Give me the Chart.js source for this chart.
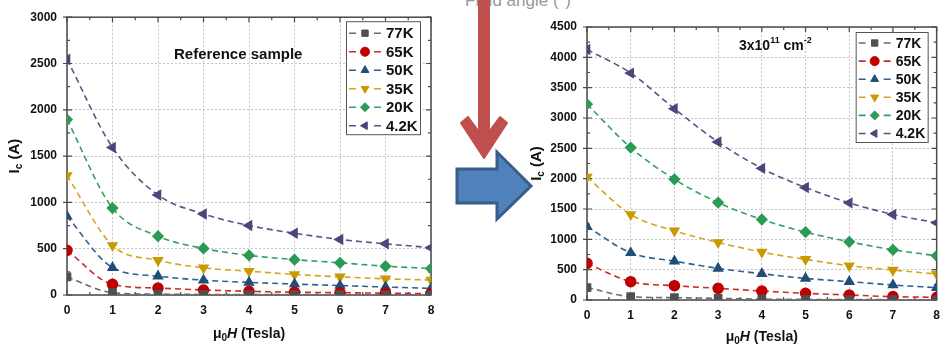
<!DOCTYPE html>
<html>
<head>
<meta charset="utf-8">
<script src="https://cdn.jsdelivr.net/npm/chart.js@4/dist/chart.umd.min.js"></script>
<style>
body { margin: 0; background: #fff; }
#wrap { position: relative; width: 948px; height: 346px; overflow: hidden; }
canvas { position: absolute; top: 0; }
svg { position: absolute; left: 0; top: 0; }
</style>
</head>
<body>
<div id="wrap">
  <svg width="948" height="346">
    <text x="465" y="6" font-family="Liberation Sans, Arial, sans-serif" font-size="17" fill="#999">Field angle (°)</text>
    <polygon fill="#c0504d" stroke="#c0504d" stroke-width="2" stroke-linejoin="round"
      points="479,-4 489,-4 489,132 500,117 507,123 484,158 461,123 468,117 479,132"/>
    <polygon fill="#4f81bd" stroke="#385d8a" stroke-width="3"
      points="457,169 497,169 497,152 531,186 497,219 497,203 457,203"/>
  </svg>
  <canvas id="left" width="445" height="346" style="left:0"></canvas>
  <canvas id="right" width="428" height="346" style="left:520px"></canvas>
</div>
<script>
// field values (Tesla)
const fields = [0, 1, 2, 3, 4, 5, 6, 7, 8];
const temps = ['77K', '65K', '50K', '35K', '20K', '4.2K'];

// reference sample, Ic (A)
const ref77 = [195, 25, 10, 6, 5, 4, 3, 3, 2];
const ref65 = [482, 115, 75, 54, 40, 30, 25, 20, 15];
const ref50 = [850, 296, 203, 160, 136, 118, 102, 86, 72];
const ref35 = [1290, 535, 375, 293, 257, 222, 196, 175, 161];
const ref20 = [1895, 939, 635, 503, 428, 382, 348, 311, 286];
const ref42 = [2545, 1593, 1080, 875, 750, 667, 600, 553, 511];

// 3x10^11 cm^-2 sample, Ic (A)
const irr77 = [205, 55, 38, 27, 15, 10, 8, 5, 3];
const irr65 = [605, 302, 236, 192, 148, 110, 82, 55, 44];
const irr50 = [1210, 778, 641, 521, 433, 356, 302, 247, 203];
const irr35 = [2025, 1410, 1140, 949, 790, 669, 565, 494, 428];
const irr20 = [3228, 2512, 1990, 1607, 1327, 1119, 960, 828, 729];
const irr42 = [4128, 3740, 3153, 2604, 2170, 1854, 1601, 1410, 1272];

const leftTicks = [0, 500, 1000, 1500, 2000, 2500, 3000];
const rightTicks = [0, 500, 1000, 1500, 2000, 2500, 3000, 3500, 4000, 4500];

const FF = "'Liberation Sans', Arial, sans-serif";
Chart.defaults.font.family = FF;

const styles = [
  { line: '#6b6b6b', mark: '#505050', point: 'rect', rot: 0 },
  { line: '#cc2b2b', mark: '#c00000', point: 'circle', rot: 0 },
  { line: '#2f5f8f', mark: '#1f4e79', point: 'triangle', rot: 0 },
  { line: '#d4a520', mark: '#c89a00', point: 'triangle', rot: 180 },
  { line: '#35a062', mark: '#2a9a55', point: 'rectRot', rot: 0 },
  { line: '#55558a', mark: '#48487a', point: 'triangle', rot: 270 }
];

function makeSets(list) {
  return list.map((vals, i) => ({
    label: temps[i],
    data: fields.map((f, j) => ({ x: f, y: vals[j] })),
    borderColor: styles[i].line,
    backgroundColor: styles[i].mark,
    pointBorderColor: styles[i].mark,
    pointBackgroundColor: styles[i].mark,
    pointStyle: styles[i].point,
    rotation: styles[i].rot,
    pointRadius: 5,
    borderWidth: 1.6,
    borderDash: [6, 4],
    cubicInterpolationMode: 'monotone',
    clip: 0,
    fill: false
  }));
}

function drawRich(ctx, parts, x, y, align) {
  let w = 0;
  parts.forEach(p => { ctx.font = p.font; w += ctx.measureText(p.t).width; });
  let cx = align === 'left' ? x : x - w / 2;
  ctx.textBaseline = 'middle';
  ctx.textAlign = 'left';
  parts.forEach(p => {
    ctx.font = p.font;
    ctx.fillText(p.t, cx, y + (p.dy || 0));
    cx += ctx.measureText(p.t).width;
  });
}

const decor = {
  id: 'decor',
  beforeDatasetsDraw(chart) {
    const { ctx, chartArea: a, scales: { x, y } } = chart;
    ctx.save();
    ctx.strokeStyle = '#4a4a4a';
    ctx.lineWidth = 1.5;
    ctx.strokeRect(a.left, a.top, a.right - a.left, a.bottom - a.top);
    ctx.lineWidth = 1.2;
    ctx.beginPath();
    x.ticks.forEach((t, i) => {
      const px = x.getPixelForValue(t.value);
      ctx.moveTo(px, a.bottom); ctx.lineTo(px, a.bottom - 5);
      ctx.moveTo(px, a.top); ctx.lineTo(px, a.top + 5);
      if (i < x.ticks.length - 1) {
        const mx = x.getPixelForValue((t.value + x.ticks[i + 1].value) / 2);
        ctx.moveTo(mx, a.bottom); ctx.lineTo(mx, a.bottom - 3);
        ctx.moveTo(mx, a.top); ctx.lineTo(mx, a.top + 3);
      }
    });
    y.ticks.forEach((t, i) => {
      const py = y.getPixelForValue(t.value);
      ctx.moveTo(a.left - 4, py); ctx.lineTo(a.left + 5, py);
      ctx.moveTo(a.right, py); ctx.lineTo(a.right - 5, py);
      if (i < y.ticks.length - 1) {
        const my = y.getPixelForValue((t.value + y.ticks[i + 1].value) / 2);
        ctx.moveTo(a.left, my); ctx.lineTo(a.left + 3, my);
        ctx.moveTo(a.right, my); ctx.lineTo(a.right - 3, my);
      }
    });
    ctx.stroke();
    ctx.restore();
    // keep markers on the axes cut in half, as in the original
    ctx.save();
    ctx.beginPath();
    ctx.rect(a.left, a.top, a.right - a.left, a.bottom - a.top);
    ctx.clip();
  },
  afterDatasetsDraw(chart) {
    chart.ctx.restore();
  },
  afterDraw(chart, args, o) {
    const { ctx, chartArea: a } = chart;
    ctx.save();
    ctx.fillStyle = '#111';
    // panel note
    drawRich(ctx, o.note, a.left + o.noteX, a.top + o.noteY, 'left');
    // axis titles
    drawRich(ctx, [
      { t: 'μ', font: 'bold 14px ' + FF },
      { t: '0', font: 'bold 10px ' + FF, dy: 4 },
      { t: 'H', font: 'italic bold 14px ' + FF },
      { t: ' (Tesla)', font: 'bold 14px ' + FF }
    ], (a.left + a.right) / 2, a.bottom + o.xTitleY, 'center');
    ctx.save();
    ctx.translate(a.left + o.yTitleX, (a.top + a.bottom) / 2);
    ctx.rotate(-Math.PI / 2);
    drawRich(ctx, [
      { t: 'I', font: 'bold 15px ' + FF },
      { t: 'c', font: 'bold 10px ' + FF, dy: 4 },
      { t: ' (A)', font: 'bold 15px ' + FF }
    ], 0, 0, 'center');
    ctx.restore();

    // legend box
    const bx = a.right - o.legRight - o.legW, by = a.top + o.legTop;
    ctx.fillStyle = '#fff';
    ctx.fillRect(bx, by, o.legW, o.legH);
    ctx.strokeStyle = '#555';
    ctx.lineWidth = 1;
    ctx.strokeRect(bx + 0.5, by + 0.5, o.legW, o.legH);
    chart.data.datasets.forEach((ds, i) => {
      const ry = by + o.legFirst + i * o.rowH;
      ctx.strokeStyle = ds.borderColor;
      ctx.lineWidth = 1.6;
      ctx.beginPath();
      ctx.moveTo(bx + 3, ry); ctx.lineTo(bx + 10, ry);
      ctx.moveTo(bx + 28, ry); ctx.lineTo(bx + 35, ry);
      ctx.stroke();
      ctx.fillStyle = ds.pointBackgroundColor;
      ctx.strokeStyle = ds.pointBorderColor;
      ctx.lineWidth = 1;
      Chart.helpers.drawPoint(ctx, { pointStyle: ds.pointStyle, rotation: ds.rotation, radius: 4.5, borderWidth: 1 }, bx + 19, ry);
      ctx.fillStyle = '#111';
      ctx.font = 'bold ' + o.legFont + 'px ' + FF;
      ctx.textAlign = 'left';
      ctx.textBaseline = 'middle';
      ctx.fillText(ds.label, bx + 40, ry + 1);
    });
    ctx.restore();
  }
};

function makeChart(id, sets, yMax, yTicks, pad, xH, deco) {
  new Chart(document.getElementById(id), {
    type: 'line',
    data: { datasets: makeSets(sets) },
    plugins: [decor],
    options: {
      responsive: false,
      animation: false,
      layout: { padding: pad },
      plugins: { legend: { display: false }, tooltip: { enabled: false }, decor: deco },
      scales: {
        x: {
          type: 'linear', min: 0, max: 8,
          ticks: { stepSize: 1, padding: 8, color: '#111', font: { size: 12, weight: 'bold' } },
          grid: { color: '#c4c4c4', lineWidth: 1, drawTicks: false },
          border: { display: false, dash: [2, 2] },
          afterFit: s => { s.height = xH; }
        },
        y: {
          type: 'linear', min: 0, max: yMax,
          afterBuildTicks: s => { s.ticks = yTicks.map(v => ({ value: v })); },
          ticks: { padding: 10, color: '#111', font: { size: 12, weight: 'bold' }, callback: v => String(v) },
          grid: { color: '#c4c4c4', lineWidth: 1, drawTicks: false },
          border: { display: false, dash: [2, 2] },
          afterFit: s => { s.width = 67; }
        }
      }
    }
  });
}

makeChart('left', [ref77, ref65, ref50, ref35, ref20, ref42], 3000, leftTicks,
  { left: 0, top: 15, right: 14, bottom: 0 }, 51,
  {
    note: [{ t: 'Reference sample', font: 'bold 15px ' + FF }], noteX: 107, noteY: 38,
    xTitleY: 39, yTitleX: -52,
    legRight: 11, legTop: 4, legW: 74, legH: 113, legFirst: 12, rowH: 18.5, legFont: 15
  });

makeChart('right', [irr77, irr65, irr50, irr35, irr20, irr42], 4500, rightTicks,
  { left: 0, top: 27, right: 9, bottom: 0 }, 46,
  {
    note: [
      { t: '3x10', font: 'bold 14px ' + FF },
      { t: '11', font: 'bold 9px ' + FF, dy: -5 },
      { t: ' cm', font: 'bold 14px ' + FF },
      { t: '-2', font: 'bold 9px ' + FF, dy: -5 }
    ], noteX: 152, noteY: 19,
    xTitleY: 37, yTitleX: -50,
    legRight: 9, legTop: 5, legW: 72, legH: 110, legFirst: 11, rowH: 18.1, legFont: 14
  });
</script>
</body>
</html>
